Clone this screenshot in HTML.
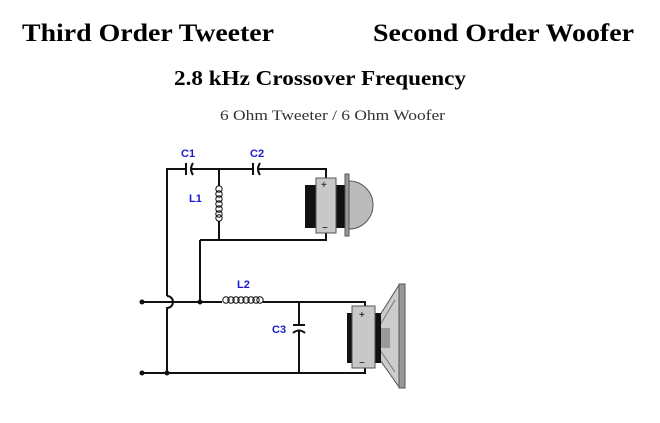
<!DOCTYPE html>
<html><head><style>body{margin:0;background:#fff}svg{display:block}</style></head><body>
<svg width="660" height="423" xmlns="http://www.w3.org/2000/svg" font-family="Liberation Serif, serif">
<text x="22" y="41" font-size="25" font-weight="bold" textLength="252" lengthAdjust="spacingAndGlyphs">Third Order Tweeter</text>
<text x="373" y="41" font-size="25" font-weight="bold" textLength="261" lengthAdjust="spacingAndGlyphs">Second Order Woofer</text>
<text x="174" y="85" font-size="21" font-weight="bold" textLength="292" lengthAdjust="spacingAndGlyphs">2.8 kHz Crossover Frequency</text>
<text x="220" y="120" font-size="15" fill="#333" textLength="225" lengthAdjust="spacingAndGlyphs">6 Ohm Tweeter / 6 Ohm Woofer</text>
<g stroke="#111" stroke-width="2" fill="none">
<path d="M167 296 V169 H186 M191 169 H253 M258 169 H326 V178"/>
<path d="M186 163 V175"/><path d="M193 163 Q189 169 193 175"/>
<path d="M253 163 V175"/><path d="M260 163 Q256 169 260 175"/>
<path d="M219 169 V186 M219 221 V240 M200 240 H326 V233 M200 240 V302"/>
<path d="M167 296 A6 6 0 0 1 167 308 V373"/>
<path d="M142 302 H222 M263 302 H365 V307"/>
<path d="M142 373 H365 V368"/>
<path d="M299 302 V325 M299 331 V373 M293 325 H305 M293 333 Q299 328 305 333"/>
</g>
<g stroke="#111" stroke-width="1" fill="none">
<circle cx="219" cy="189" r="3.2"/><circle cx="219" cy="194" r="3.2"/><circle cx="219" cy="199" r="3.2"/><circle cx="219" cy="204" r="3.2"/><circle cx="219" cy="209" r="3.2"/><circle cx="219" cy="214" r="3.2"/><circle cx="219" cy="218" r="3.2"/>
<circle cx="226" cy="300" r="3.2"/><circle cx="231" cy="300" r="3.2"/><circle cx="236" cy="300" r="3.2"/><circle cx="241" cy="300" r="3.2"/><circle cx="246" cy="300" r="3.2"/><circle cx="251" cy="300" r="3.2"/><circle cx="256" cy="300" r="3.2"/><circle cx="260" cy="300" r="3.2"/>
</g>
<g fill="#111">
<circle cx="142" cy="302" r="2.5"/><circle cx="142" cy="373" r="2.5"/>
<circle cx="200" cy="302" r="2.5"/><circle cx="167" cy="373" r="2.5"/>
</g>
<g font-family="Liberation Sans, sans-serif" font-weight="bold" font-size="11" fill="#1a1ad0">
<text x="181" y="157">C1</text><text x="250" y="157">C2</text>
<text x="189" y="202">L1</text><text x="237" y="288">L2</text><text x="272" y="333">C3</text>
</g>
<rect x="305" y="185" width="40" height="43" fill="#111"/>
<rect x="316" y="178" width="20" height="55" fill="#c8c8c8" stroke="#555"/>
<text x="321" y="188" font-family="Liberation Sans" font-size="10">+</text>
<text x="322" y="231" font-family="Liberation Sans" font-size="10">−</text>
<path d="M349 181 A24 24 0 0 1 349 229 Z" fill="#bbb" stroke="#555"/>
<rect x="345" y="174" width="4" height="62" fill="#999" stroke="#555"/>
<path d="M380 315 L399 285 V387 L380 360 Z" fill="#ccc" stroke="#555"/>
<path d="M380 325 L395 300 M380 350 L395 372" stroke="#777" fill="none"/>
<rect x="378" y="328" width="12" height="20" fill="#999"/>
<rect x="347" y="313" width="34" height="50" fill="#111"/>
<rect x="352" y="306" width="23" height="62" fill="#c8c8c8" stroke="#555"/>
<text x="359" y="318" font-family="Liberation Sans" font-size="10">+</text>
<text x="359" y="366" font-family="Liberation Sans" font-size="10">−</text>
<rect x="399" y="284" width="6" height="104" fill="#999" stroke="#555"/>
</svg>
</body></html>
